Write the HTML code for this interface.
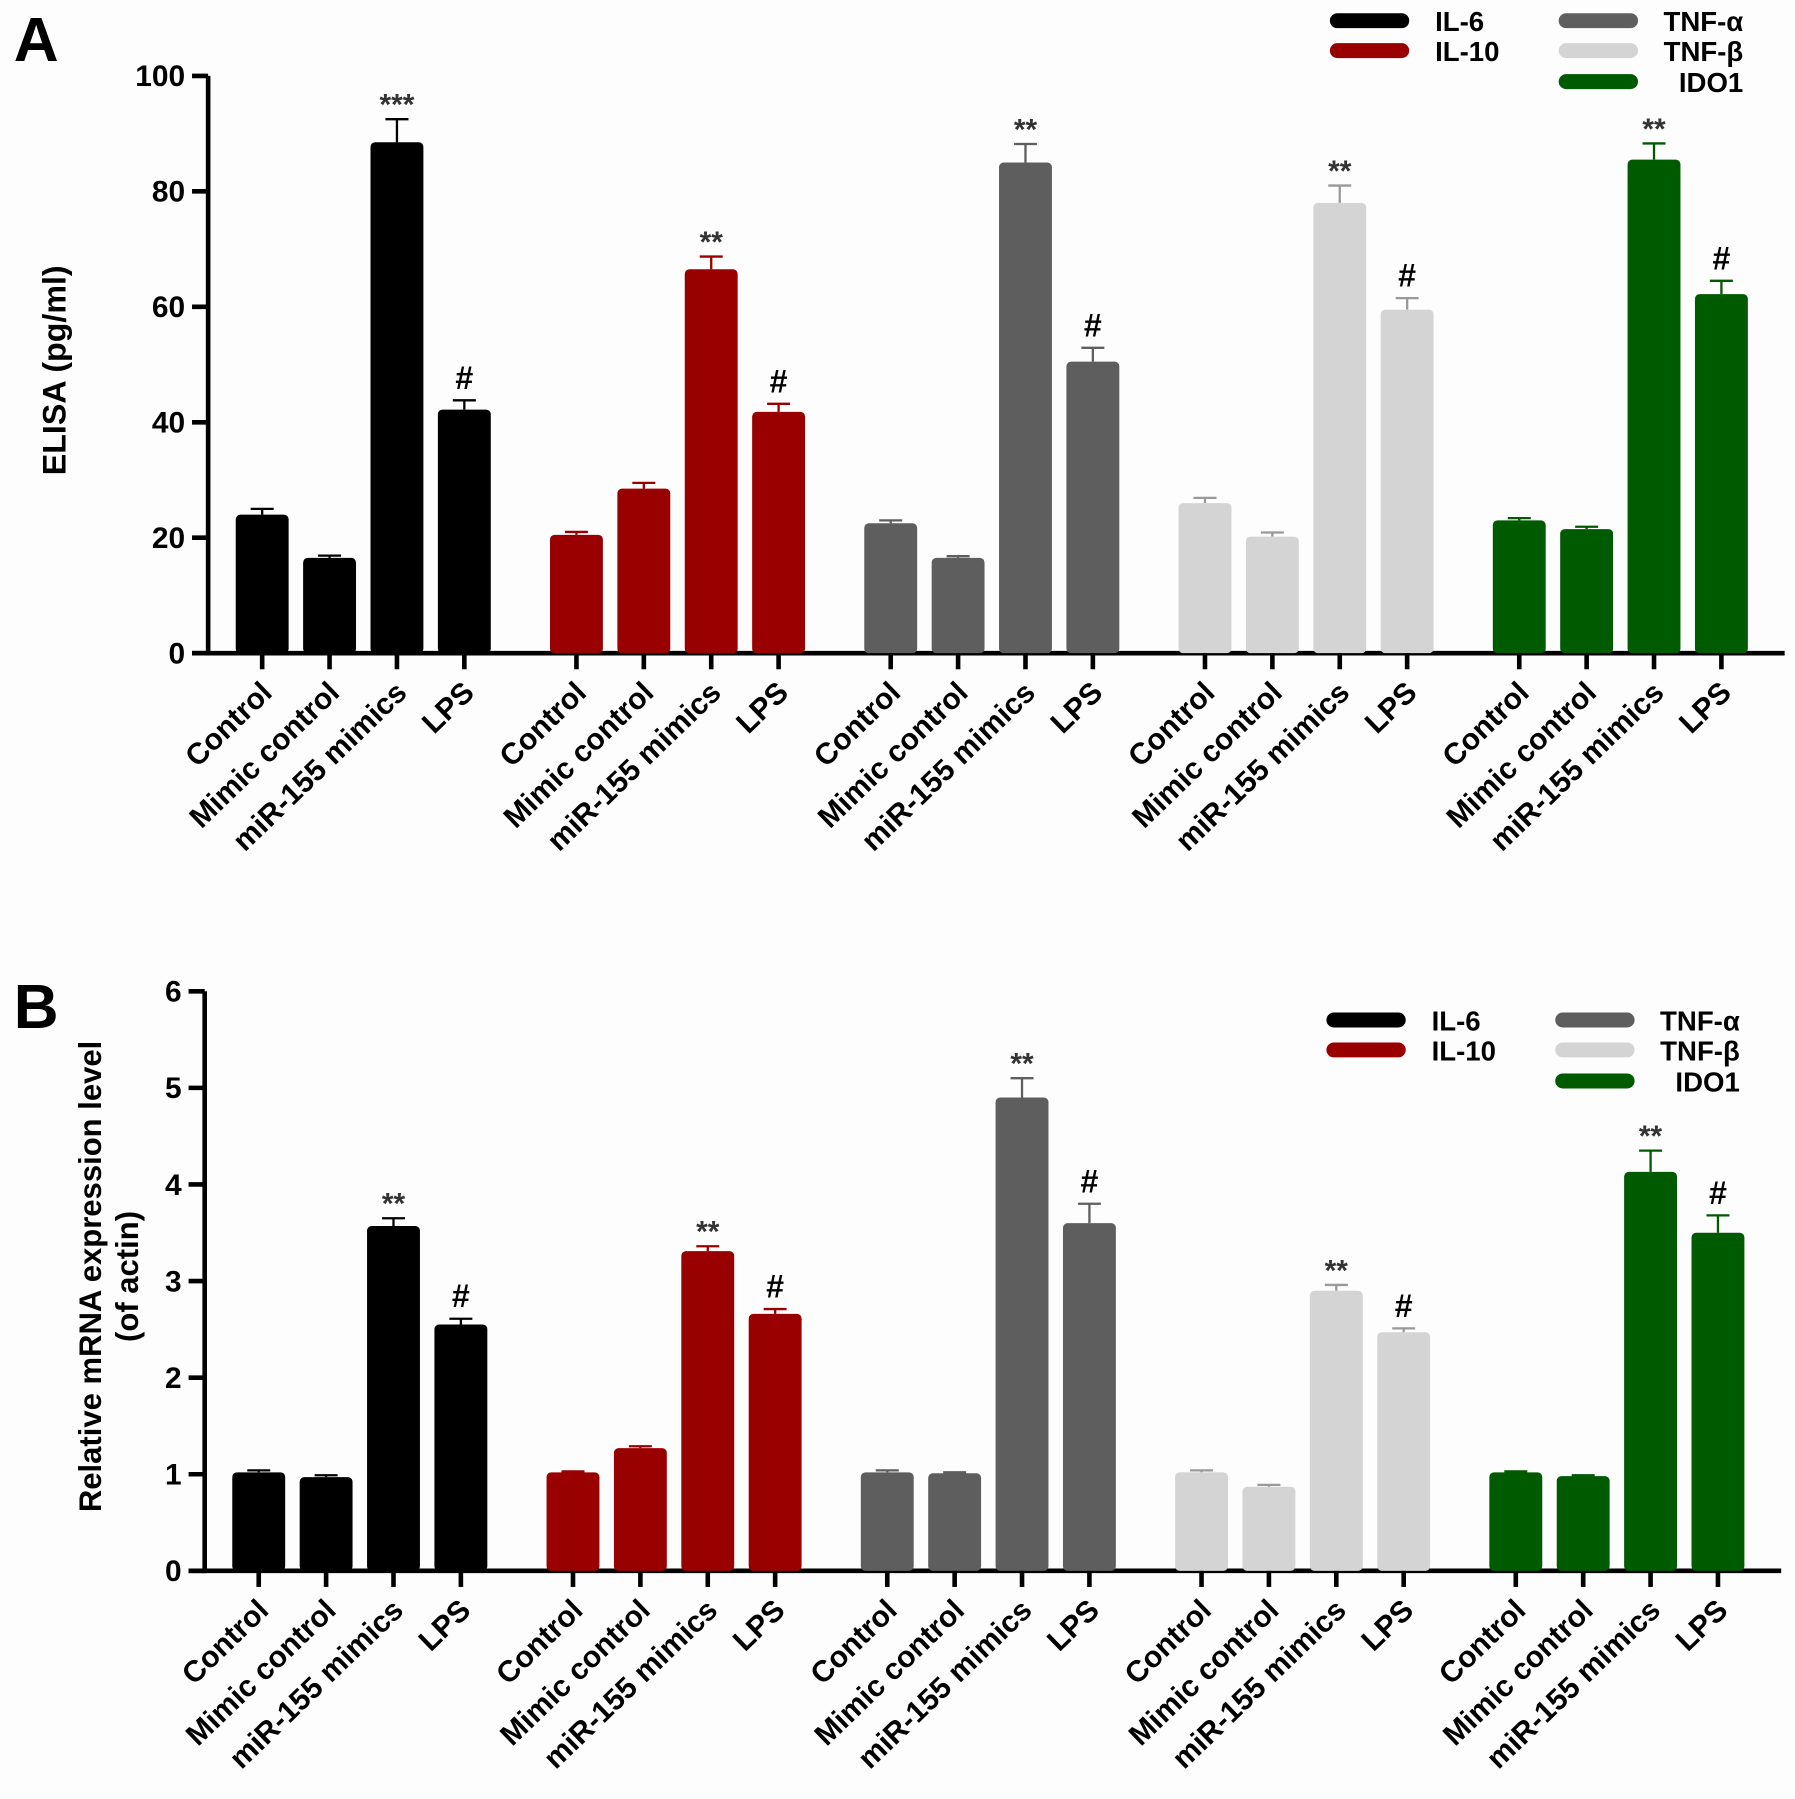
<!DOCTYPE html>
<html><head><meta charset="utf-8"><style>
html,body{margin:0;padding:0;background:#fdfdfd;}
svg{display:block;font-family:"Liberation Sans",Arial,sans-serif;font-weight:bold;}
</style></head><body>
<svg id="fig" width="1795" height="1799" viewBox="0 0 1561 1564.4" preserveAspectRatio="none" xmlns="http://www.w3.org/2000/svg">
<rect x="0" y="0" width="1561" height="1565" fill="#fdfdfd"/>
<text x="12" y="53" font-size="54">A</text>
<text x="12" y="894" font-size="54">B</text>
<text transform="translate(57,322) rotate(-90)" text-anchor="middle" font-size="28">ELISA (pg/ml)</text>
<text transform="translate(88,1110) rotate(-90)" text-anchor="middle" font-size="27">Relative mRNA expression level</text>
<text transform="translate(120,1110) rotate(-90)" text-anchor="middle" font-size="27">(of actin)</text>
<g id="gA"></g>
<g id="gB"></g>
</svg>
<script>
const categories = ["Control","Mimic control","miR-155 mimics","LPS"];
const seriesNames = ["IL-6","IL-10","TNF-α","TNF-β","IDO1"];
const colors = ["#000000","#990000","#5e5e5e","#d4d4d4","#005a00"];
const elisaIL6 = [24,16.5,88.5,42.2];
const elisaIL10 = [20.5,28.5,66.5,41.8];
const elisaTNFa = [22.5,16.5,85,50.5];
const elisaTNFb = [26,20.2,78,59.5];
const elisaIDO1 = [23,21.5,85.5,62.2];
const elisaErr = [[1,0.4,4,1.6],[0.5,1,2.2,1.4],[0.5,0.3,3.2,2.4],[0.9,0.7,3,2],[0.4,0.4,2.8,2.3]];
const elisaMarks = [["","","***","#"],["","","**","#"],["","","**","#"],["","","**","#"],["","","**","#"]];
const elisaTicks = [0,20,40,60,80,100];
const mrnaIL6 = [1.02,0.97,3.57,2.55];
const mrnaIL10 = [1.02,1.27,3.31,2.66];
const mrnaTNFa = [1.02,1.01,4.9,3.6];
const mrnaTNFb = [1.02,0.87,2.9,2.47];
const mrnaIDO1 = [1.02,0.98,4.13,3.5];
const mrnaErr = [[0.02,0.02,0.08,0.06],[0.01,0.02,0.05,0.05],[0.02,0.01,0.2,0.2],[0.02,0.02,0.06,0.04],[0.01,0.01,0.22,0.18]];
const mrnaMarks = [["","","**","#"],["","","**","#"],["","","**","#"],["","","**","#"],["","","**","#"]];
const mrnaTicks = [0,1,2,3,4,5,6];

const NS="http://www.w3.org/2000/svg";
function mk(p,tag,at,txt){const e=document.createElementNS(NS,tag);for(const k in at)e.setAttribute(k,at[k]);if(txt!==undefined)e.textContent=txt;p.appendChild(e);return e;}

function panel(g,cfg){
  const {ax,y0,yTop,ymax,x0,xEnd,data,err,marks,ticks,leg}=cfg;
  const ys=v=>y0-(v/ymax)*(y0-yTop);
  const xs=(s,c)=>x0+s*273.3+c*58.6;
  const bw=46;
  let e=mk(g,'line',{x1:ax,y1:yTop,x2:ax,y2:y0+2,stroke:'#000','stroke-width':4});
  
  
  e=mk(g,'line',{x1:ax-14,y1:y0,x2:xEnd,y2:y0,stroke:'#000','stroke-width':4});
  
  
  ticks.forEach(t=>{
    e=mk(g,'line',{x1:ax-14,y1:ys(t),x2:ax,y2:ys(t),stroke:'#000','stroke-width':4});
    
    
    e=mk(g,'text',{x:ax-20,y:ys(t)+9,'text-anchor':'end','font-size':26},String(t));
    
    
  });
  data.forEach((vals,s)=>{
    vals.forEach((v,c)=>{
      const cx=xs(s,c);
      const top=ys(v), et=ys(v+err[s][c]);
      e=mk(g,'line',{x1:cx,y1:top,x2:cx,y2:et,stroke:s===3?'#999':colors[s],'stroke-width':2});
      
      
      e=mk(g,'line',{x1:cx-10,y1:et,x2:cx+10,y2:et,stroke:s===3?'#999':colors[s],'stroke-width':2});
      
      
      e=mk(g,'rect',{x:cx-bw/2,y:top,width:bw,height:y0-top,rx:4,fill:colors[s]});
      
      
      e=mk(g,'line',{x1:cx,y1:y0,x2:cx,y2:y0+14,stroke:'#000','stroke-width':4});
      
      
      const m=marks[s][c];
      if(m){
        const star=m.indexOf('*')>=0;
        e=mk(g,'text',{x:cx,y:et-(star?4:10),'text-anchor':'middle','font-size':star?26:28,fill:star?'#333':'#000'},m);
        
        
      }
      e=mk(g,'text',{transform:`translate(${cx+10},${y0+36}) rotate(-44)`,'text-anchor':'end','font-size':26},categories[c]);
      
      
    });
  });
  const L=[[0,leg.x1,leg.y],[1,leg.x1,leg.y+26],[2,leg.x2,leg.y],[3,leg.x2,leg.y+26],[4,leg.x2,leg.y+53]];
  L.forEach(([s,x,y])=>{
    e=mk(g,'line',{x1:x,y1:y,x2:x+56,y2:y,stroke:colors[s],'stroke-width':13,'stroke-linecap':'round'});
    
    
    e=mk(g,'text',{x:s<2?x+85:x+154,y:y+9,'text-anchor':s<2?'start':'end','font-size':24},seriesNames[s]);
    
    
  });
}
panel(document.getElementById('gA'),{ax:181,y0:568,yTop:66,ymax:100,x0:228,xEnd:1552,data:[elisaIL6,elisaIL10,elisaTNFa,elisaTNFb,elisaIDO1],err:elisaErr,marks:elisaMarks,ticks:elisaTicks,leg:{x1:1163,x2:1362,y:18}});
panel(document.getElementById('gB'),{ax:178,y0:1366,yTop:862,ymax:6,x0:225,xEnd:1549,data:[mrnaIL6,mrnaIL10,mrnaTNFa,mrnaTNFb,mrnaIDO1],err:mrnaErr,marks:mrnaMarks,ticks:mrnaTicks,leg:{x1:1160,x2:1359,y:887}});
</script>
</body></html>
